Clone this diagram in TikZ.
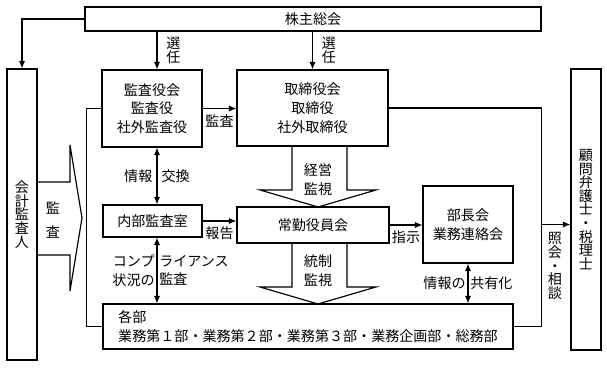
\documentclass[tikz,border=0pt]{standalone}
\usepackage{fontspec}
\setmainfont{Noto Sans CJK JP}
\usetikzlibrary{arrows.meta}

\begin{document}
\begin{tikzpicture}[x=0.3mm,y=-0.3mm,>={Latex[length=6.5pt,width=5.5pt]},
  line width=1pt,font=\fontsize{12}{16}\selectfont,
  box/.style={draw,inner sep=0pt,align=center},
  vstack/.style={align=center,font={\fontsize{12}{11.6}\selectfont\lineskiplimit=-10pt}},
  note/.style={inner sep=1.5pt}]
\useasboundingbox (0,0) rectangle (607,368);

\coordinate (kx) at (157,0);

% Boxes
\node[box,minimum width=136.8mm,minimum height=7.2mm] (kabu) at (313,19) {株主総会};
\node[box,vstack,minimum width=9mm,minimum height=87.3mm] (kaikei) at (22,214.5) {会\\計\\監\\査\\人};
\node[box,minimum width=30mm,minimum height=23.1mm] (kansayaku) at (152,108.5) {監査役会\\監査役\\社外監査役};
\node[box,minimum width=45.3mm,minimum height=22.8mm] (torishimari) at (312.5,108) {取締役会\\取締役\\社外取締役};
\node[box,minimum width=29.7mm,minimum height=9.6mm] (naibu) at (152.5,221) {内部監査室};
\node[box,minimum width=45.6mm,minimum height=10.8mm] (joukin) at (313,225) {常勤役員会};
\node[box,minimum width=27mm,minimum height=23.1mm] (buchou) at (468,224.5) {部長会\\業務連絡会};
\node[box,align=left,minimum width=123mm,minimum height=13.5mm] (kakubu) at (308,326.5)
  {各部\\業務第１部・業務第２部・業務第３部・業務企画部・総務部};
\node[box,vstack,minimum width=9mm,minimum height=84.3mm] (komon) at (586,209.5) {顧\\問\\弁\\護\\士\\・\\税\\理\\士};

% Selection and audit arrows
\draw[->] (kabu.west) -| (kaikei.north);
\draw[->] (kabu.south -| kx) -- node[note,vstack,right=6pt] (sennin1) {選\\任} (kansayaku.north -| kx);
\draw[->] (kabu.south -| torishimari.north) -- node[note,vstack,right=6pt] (sennin2) {選\\任} (torishimari.north);
\draw[->] (kansayaku.east) -- node[note,below=3pt] (kansa1) {監査} (kansayaku.east -| torishimari.west);
\draw[->] (naibu.east) -- node[note,below=3pt] (houkoku) {報告} (naibu.east -| joukin.west);
\draw[->] (joukin.east) -- node[note,below=3pt] (shiji) {指示} (joukin.east -| buchou.west);

% Information exchange
\draw[<->] (kansayaku.south -| kx) -- node[note,left=2pt] (jouhou) {情報}
  node[note,right=2pt] (koukan) {交換} (naibu.north -| kx);
\draw[<->] (naibu.south -| kx) -- node[note,left,align=right] (konpu) {コンプ\\状況の}
  node[note,right,align=left] (raiansu) {ライアンス\\監査} (kakubu.north -| kx);
\draw[<->] (buchou.south) -- node[note,left] (jouhouno) {情報の}
  node[note,right] (kyouyuu) {共有化} (buchou.south |- kakubu.north);

% Loops round the departments
\draw (kansayaku.west) -- ++(-15,0) |- (kakubu.west);
\draw (torishimari.east) -| (kakubu.east -| kabu.east) -- (kakubu.east);
\coordinate (sodan) at (kabu.east |- buchou);
\draw[->] (sodan) -- (sodan -| komon.west);
\node[vstack] (shoukai) at (555,266) {照\\会\\・\\相\\談};

% Monitoring arrows
\foreach \t/\b in {146/190,243/287}
  \draw (292,\t) -- (292,\b) -- (260,\b) -- (318,\b+17) -- (376,\b) -- (347,\b) -- (347,\t);
\node[align=center] (keiei) at (318,180) {経営\\監視};
\node[align=center] (tousei) at (318,271) {統制\\監視};

% External audit arrow
\draw (kaikei.east |- 0,182) -- (70,182) -- (70,145) -- (82,218) -- (70,291) -- (70,255) -- (kaikei.east |- 0,255);
\node[align=center] (kansa2) at (53,220) {監\\[4pt]査};
\end{tikzpicture}
\end{document}
